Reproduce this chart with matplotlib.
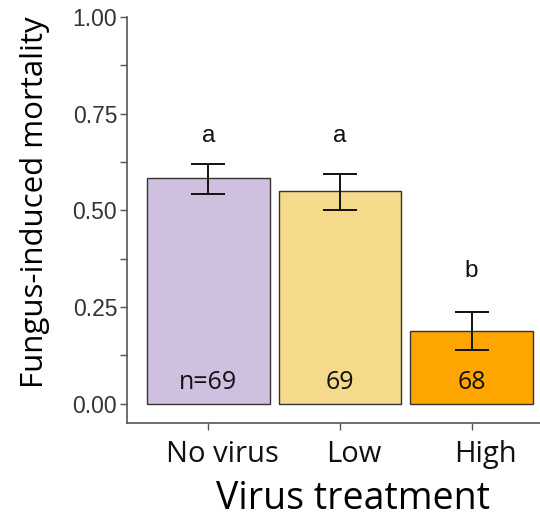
import matplotlib
matplotlib.use("Agg")
import matplotlib.pyplot as plt
import matplotlib.transforms as mtransforms
import numpy as np

treatments = ["No virus", "Low", "High"]
mortality = [0.584, 0.550, 0.189]
err_low = [0.543, 0.501, 0.139]
err_high = [0.620, 0.594, 0.238]
letters = ["a", "a", "b"]
letter_y = [0.691, 0.691, 0.342]
n_labels = ["n=69", "69", "68"]
colors = ["#CFC0E0", "#F6DA8C", "#FFA500"]

fig = plt.figure(figsize=(5.4, 5.14), dpi=100)
ax = fig.add_axes([0.235, 0.177, 0.765, 0.790])

x = np.arange(len(treatments))
ax.bar(x, mortality, width=0.93, color=colors, edgecolor="#333333", linewidth=1.0, zorder=2)
m = np.array(mortality)
yerr = np.vstack([m - np.array(err_low), np.array(err_high) - m])
ax.errorbar(x, m, yerr=yerr, fmt="none", ecolor="#111111", elinewidth=1.4,
            capsize=12.5, capthick=1.4, zorder=3)

for xi, lab, ly in zip(x, letters, letter_y):
    ax.text(xi, ly, lab, ha="center", va="center", fontsize=17.5,
            family="Liberation Sans", color="#111111")
for xi, lab in zip(x, n_labels):
    ax.text(xi, 0.054, lab, ha="center", va="center", fontsize=18,
            family="Open Sans", color="#111111")

ax.set_xlim(-0.62, 2.52)
ax.set_ylim(-0.05, 1.0)
ax.set_yticks([0, 0.25, 0.5, 0.75, 1.0])
ax.set_yticklabels(["0.00", "0.25", "0.50", "0.75", "1.00"], family="Liberation Sans", fontsize=16.5)
ax.set_yticks([0.125, 0.375, 0.625, 0.875], minor=True)
ax.set_xticks(x)
ax.set_xticklabels(treatments, family="Open Sans", fontsize=21)

for s in ["top", "right"]:
    ax.spines[s].set_visible(False)
for s in ["left", "bottom"]:
    ax.spines[s].set_color("#555555")
    ax.spines[s].set_linewidth(1.2)
ax.spines["left"].set_bounds(-0.05, 1.0)
ax.tick_params(axis="both", which="both", color="#555555", width=1.0, length=5)
ax.tick_params(axis="y", which="both", labelcolor="#333333", pad=2)
ax.tick_params(axis="x", labelcolor="#111111", pad=7)

# category names sit slightly right of their tick marks
shift = mtransforms.ScaledTranslation(0.14, 0, fig.dpi_scale_trans)
for lbl in ax.xaxis.get_majorticklabels():
    lbl.set_transform(lbl.get_transform() + shift)

ax.set_ylabel("Fungus-induced mortality", family="Open Sans", fontsize=22.5)
ax.yaxis.set_label_coords(-0.186, 0.544)
ax.set_xlabel("Virus treatment", family="Open Sans", fontsize=27, labelpad=8.5)
ax.xaxis.label.set_x(0.547)

fig.savefig("out.png", dpi=100)
